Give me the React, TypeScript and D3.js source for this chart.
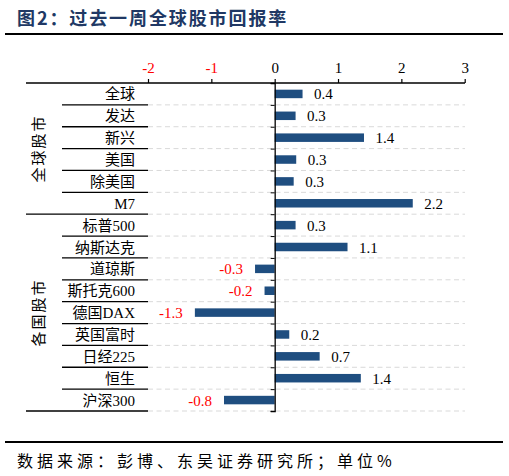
/**
 * Weekly global equity returns
 * Horizontal bar chart grouped by market type
 */

import { useEffect, useRef } from 'react';
import * as d3 from 'd3';

const categories = ['全球', '发达', '新兴', '美国', '除美国', 'M7',
    '标普500', '纳斯达克', '道琼斯', '斯托克600', '德国DAX', '英国富时', '日经225', '恒生', '沪深300'];
const returns = [0.44, 0.33, 1.41, 0.34, 0.30, 2.18,
    0.33, 1.15, -0.31, -0.16, -1.26, 0.23, 0.71, 1.36, -0.80];
const groups = ['全球股市', '各国股市'];
const groupSizes = [6, 9];
const xTicks = [-2, -1, 0, 1, 2, 3];

const TITLE = '图2：过去一周全球股市回报率';
const SOURCE = '数据来源：彭博、东吴证券研究所；单位%';

const W = 509;
const H = 476;
const SERIF = '"Liberation Serif", "Noto Sans CJK SC", serif';
const CJK = '"Noto Sans CJK SC", sans-serif';

export default function App() {
    const svgRef = useRef<SVGSVGElement>(null);

    useEffect(() => {
        if (!svgRef.current) return;
        const svg = d3.select(svgRef.current);
        svg.selectAll('*').remove();

        const top = 83;
        const bottom = 411;
        const left = 26;
        const labelRight = 148;
        const right = 465;

        const x = d3.scaleLinear().domain([-2, 3]).range([labelRight, 464.7]);
        const y = d3.scaleBand<string>().domain(categories).range([top, bottom]);
        const yIdx = d3.scaleLinear().domain([0, categories.length]).range([top, bottom]);

        // Title + rules
        svg.append('text')
            .attr('x', 17).attr('y', 25)
            .attr('font-family', CJK).attr('font-size', 18).attr('font-weight', 700)
            .attr('letter-spacing', 1.9)
            .attr('fill', '#203864')
            .text(TITLE);
        svg.append('line').attr('x1', 5).attr('x2', 503).attr('y1', 34).attr('y2', 34)
            .attr('stroke', '#000').attr('stroke-width', 2);
        svg.append('line').attr('x1', 5).attr('x2', 503).attr('y1', 442).attr('y2', 442)
            .attr('stroke', '#000').attr('stroke-width', 2);
        svg.append('text')
            .attr('x', 17).attr('y', 467)
            .attr('font-family', CJK).attr('font-size', 16)
            .attr('letter-spacing', 4)
            .attr('fill', '#000')
            .text(SOURCE);

        const g = svg.append('g');

        // Row separators
        const groupEnds = d3.cumsum(groupSizes);
        for (let i = 1; i <= categories.length; i++) {
            const yy = yIdx(i);
            const isGroupEnd = groupEnds.includes(i);
            g.append('line')
                .attr('x1', isGroupEnd ? left : 62).attr('x2', labelRight)
                .attr('y1', yy).attr('y2', yy)
                .attr('stroke', '#000').attr('stroke-width', 1.3);
            g.append('line')
                .attr('x1', labelRight).attr('x2', right)
                .attr('y1', yy).attr('y2', yy)
                .attr('stroke', '#d9d9d9').attr('stroke-width', 1)
                .attr('stroke-dasharray', '5,3.5');
        }

        // Top axis
        g.append('line').attr('x1', left).attr('x2', right).attr('y1', top).attr('y2', top)
            .attr('stroke', '#000').attr('stroke-width', 1.3);
        g.append('g')
            .attr('transform', `translate(0,${top})`)
            .call(d3.axisTop(x).tickValues(xTicks).tickSize(4).tickPadding(6).tickFormat(d => `${d}`))
            .call(a => a.select('.domain').remove())
            .call(a => a.selectAll('.tick line').attr('stroke', '#000').attr('stroke-width', 1.2))
            .call(a => a.selectAll<SVGTextElement, number>('.tick text')
                .attr('font-family', SERIF).attr('font-size', 15)
                .attr('fill', d => d < 0 ? '#ff0000' : '#000'));

        // Bars
        const barH = 8.5;
        g.selectAll('.bar')
            .data(categories)
            .enter()
            .append('rect')
            .attr('x', (_, i) => Math.min(x(0), x(returns[i])))
            .attr('y', d => (y(d) || 0) + y.bandwidth() / 2 - barH / 2)
            .attr('width', (_, i) => Math.abs(x(returns[i]) - x(0)))
            .attr('height', barH)
            .attr('fill', '#1f4e80');

        // Zero axis with ticks at row boundaries
        g.append('g')
            .attr('transform', `translate(${x(0)},0)`)
            .call(d3.axisLeft(yIdx).tickValues(d3.range(categories.length + 1)).tickSize(4).tickFormat(() => ''))
            .call(a => a.select('.domain').attr('stroke', '#000').attr('stroke-width', 1.3))
            .call(a => a.selectAll('.tick line').attr('stroke', '#000'));

        // Value labels
        g.selectAll('.value')
            .data(categories)
            .enter()
            .append('text')
            .attr('x', (_, i) => returns[i] >= 0 ? x(returns[i]) + 11.5 : x(returns[i]) - 12)
            .attr('y', d => (y(d) || 0) + y.bandwidth() / 2 + 5.5)
            .attr('text-anchor', (_, i) => returns[i] >= 0 ? 'start' : 'end')
            .attr('font-family', SERIF).attr('font-size', 15)
            .attr('fill', (_, i) => returns[i] < 0 ? '#ff0000' : '#000')
            .text((_, i) => returns[i].toFixed(1));

        // Category labels
        g.selectAll('.cat')
            .data(categories)
            .enter()
            .append('text')
            .attr('x', 135)
            .attr('y', d => (y(d) || 0) + y.bandwidth() / 2 + 5.5)
            .attr('text-anchor', 'end')
            .attr('font-family', SERIF).attr('font-size', 15)
            .attr('fill', '#000')
            .text(d => d);

        // Group labels (vertical)
        groups.forEach((name, gi) => {
            const start = gi === 0 ? 0 : groupEnds[gi - 1];
            const cy = (yIdx(start) + yIdx(groupEnds[gi])) / 2;
            g.append('text')
                .attr('transform', `translate(44,${cy}) rotate(-90)`)
                .attr('text-anchor', 'middle')
                .attr('font-family', CJK).attr('font-size', 15)
                .attr('letter-spacing', 2)
                .attr('fill', '#000')
                .text(name);
        });
    }, []);

    return (
        <svg
            ref={svgRef}
            width={W}
            height={H}
            style={{ position: 'absolute', left: 0, top: 0, background: '#fff' }}
        />
    );
}
